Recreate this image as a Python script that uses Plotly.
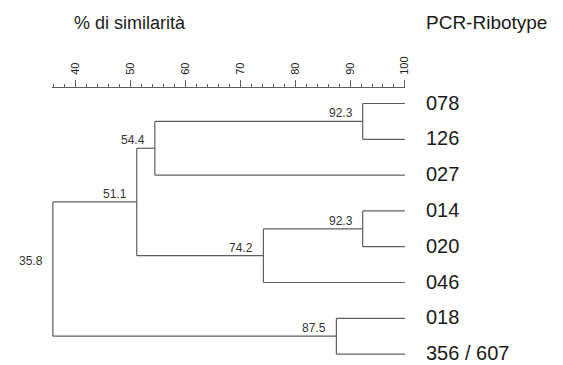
import plotly.graph_objects as go

# ---- data ----
leaves = ["078", "126", "027", "014", "020", "046", "018", "356 / 607"]
# merges: (child_a, child_b, similarity); new node ids continue after leaves
merge_a = [0, 3, 6, 8, 9, 11, 13]
merge_b = [1, 4, 7, 2, 5, 12, 10]
merge_sim = [92.3, 92.3, 87.5, 54.4, 74.2, 51.1, 35.8]
merge_labels = ["92.3", "92.3", "87.5", "54.4", "74.2", "51.1", "35.8"]
leaf_sim = 100.0

axis_title = "% di similarità"
leaf_title = "PCR-Ribotype"
tick_vals = [40, 50, 60, 70, 80, 90, 100]

LINE = "#5e5e5e"
FONT = "Liberation Sans, Arial, sans-serif"

# ---- build dendrogram geometry from the merge table ----
node_x = {i: leaf_sim for i in range(len(leaves))}
node_y = {i: float(i) for i in range(len(leaves))}
xs, ys = [], []
for k, (a, b, s) in enumerate(zip(merge_a, merge_b, merge_sim)):
    nid = len(leaves) + k
    for c in (a, b):
        xs += [node_x[c], s, None]
        ys += [node_y[c], node_y[c], None]
    xs += [s, s, None]
    ys += [node_y[a], node_y[b], None]
    node_x[nid] = s
    node_y[nid] = (node_y[a] + node_y[b]) / 2

fig = go.Figure()
# invisible trace to carry the similarity scale axis
fig.add_trace(go.Scatter(x=[tick_vals[0], tick_vals[-1]], y=[0, 0], mode="markers",
                         marker=dict(opacity=0), xaxis="x2", yaxis="y",
                         hoverinfo="skip", showlegend=False))
fig.add_trace(go.Scatter(x=xs, y=ys, mode="lines",
                         line=dict(color=LINE, width=1.2),
                         hoverinfo="skip", showlegend=False))

annotations = []
for k, s in enumerate(merge_sim):
    nid = len(leaves) + k
    annotations.append(dict(x=s, y=node_y[nid], xref="x", yref="y",
                            text=merge_labels[k], showarrow=False,
                            xanchor="right", yanchor="bottom", xshift=-8, yshift=-1,
                            font=dict(family=FONT, size=12, color="#333333")))
for i, name in enumerate(leaves):
    annotations.append(dict(x=leaf_sim, y=i, xref="x", yref="y", text=name,
                            showarrow=False, xanchor="left", yanchor="middle",
                            xshift=19, yshift=1,
                            font=dict(family=FONT, size=20, color="#1a1a1a")))
annotations.append(dict(x=131 / 563, y=1 - 23 / 365, xref="paper", yref="paper",
                        text=axis_title, showarrow=False, xanchor="center", yanchor="middle",
                        font=dict(family=FONT, size=18, color="#1a1a1a")))
annotations.append(dict(x=492 / 563, y=1 - 23 / 365, xref="paper", yref="paper",
                        text=leaf_title, showarrow=False, xanchor="center", yanchor="middle",
                        font=dict(family=FONT, size=19, color="#1a1a1a")))

# pixel mapping: x_px = 76.7 + (v-40)*5.543 ; y_px = 103.5 + 35.8*i
px_per = 5.543
row_px = 35.8
top_px = 103.5
x0 = 40 - 76.7 / px_per
x1 = 40 + (563 - 76.7) / px_per
y_top = -top_px / row_px
y_bot = (365 - top_px) / row_px
ax_lo = 35.6

fig.update_layout(
    width=563, height=365, autosize=False,
    margin=dict(l=0, r=0, t=0, b=0),
    paper_bgcolor="white", plot_bgcolor="rgba(0,0,0,0)",
    xaxis=dict(range=[x0, x1], domain=[0, 1], visible=False, fixedrange=True),
    yaxis=dict(range=[y_bot, y_top], domain=[0, 1], visible=False, fixedrange=True),
    xaxis2=dict(range=[ax_lo, 100], domain=[(76.7 + (ax_lo - 40) * px_per) / 563, (76.7 + 60 * px_per) / 563],
                anchor="free", position=1 - 87 / 365, side="top",
                showline=True, linecolor=LINE, linewidth=1,
                showgrid=False, zeroline=False,
                tickmode="array", tickvals=tick_vals,
                ticks="outside", ticklen=7, tickcolor=LINE, tickwidth=1,
                tickangle=-90, ticklabelstandoff=3,
                tickfont=dict(family=FONT, size=11, color="#222222"),
                minor=dict(dtick=2, tick0=0, ticks="outside", ticklen=3, tickcolor=LINE, tickwidth=1, showgrid=False),
                fixedrange=True),
    annotations=annotations,
)

fig.write_html("out.html")
